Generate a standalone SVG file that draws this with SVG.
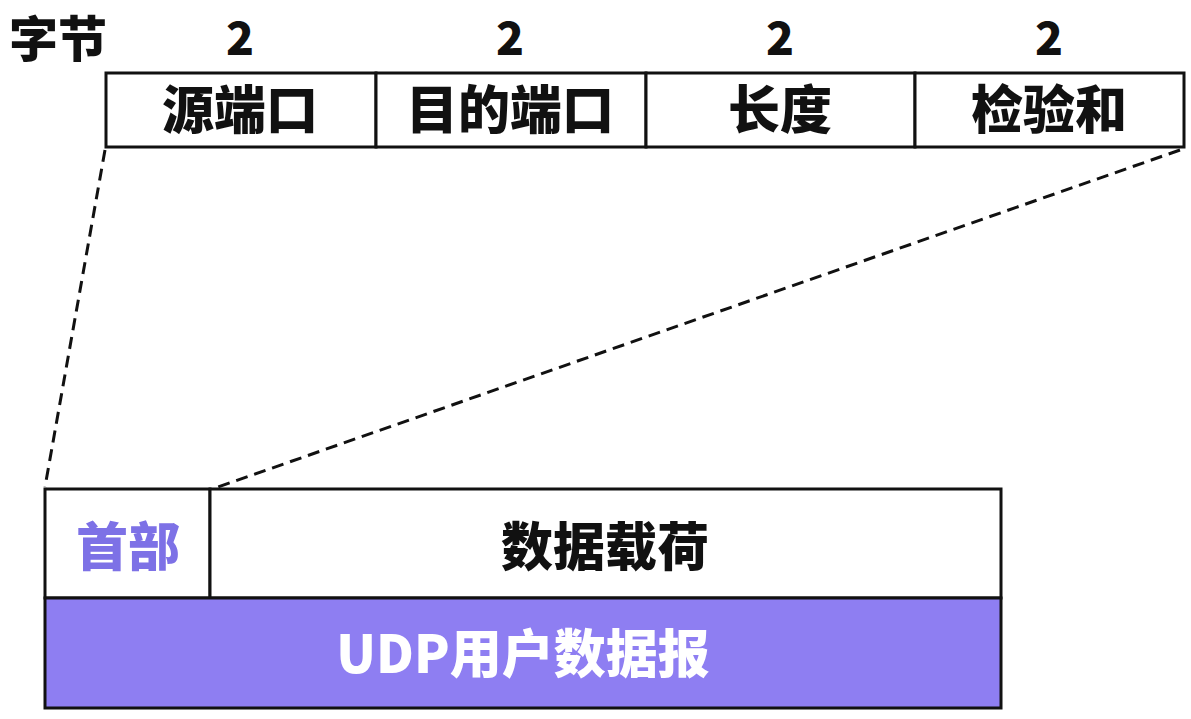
<svg xmlns="http://www.w3.org/2000/svg" width="1191" height="719" viewBox="0 0 1191 719">
<style>
text{font-family:"Noto Sans CJK SC","Noto Sans",sans-serif;font-weight:900;text-anchor:middle;dominant-baseline:central}
.lbl{font-size:52px;fill:#111}
.top{font-size:49px;fill:#111}
.num{font-size:46px;fill:#111}
.box{fill:#fff;stroke:#111;stroke-width:3}
.dash{stroke:#111;stroke-width:3;stroke-dasharray:12 7;fill:none}
</style>
<rect width="1191" height="719" fill="#fff"/>
<g id="bytes-label"><text class="top" x="58" y="35">字节</text></g>
<g id="sizes">
<text class="num" x="240" y="35">2</text>
<text class="num" x="510" y="35">2</text>
<text class="num" x="780" y="35">2</text>
<text class="num" x="1049" y="35">2</text>
</g>
<g id="src-port"><rect class="box" x="106" y="73" width="270" height="74"/><text class="lbl" x="240" y="106">源端口</text></g>
<g id="dst-port"><rect class="box" x="376" y="73" width="270" height="74"/><text class="lbl" x="510" y="106">目的端口</text></g>
<g id="length"><rect class="box" x="646" y="73" width="269" height="74"/><text class="lbl" x="780" y="106">长度</text></g>
<g id="checksum"><rect class="box" x="915" y="73" width="269" height="74"/><text class="lbl" x="1049" y="106">检验和</text></g>
<g id="connectors">
<line class="dash" x1="105" y1="150" x2="45" y2="487"/>
<line class="dash" x1="1180" y1="150" x2="218" y2="487"/>
</g>
<g id="header"><rect class="box" x="45" y="489" width="165" height="109"/><text class="lbl" x="128" y="543" style="fill:#7d71e6">首部</text></g>
<g id="payload"><rect class="box" x="210" y="489" width="791" height="109"/><text class="lbl" x="605" y="543">数据载荷</text></g>
<g id="udp"><rect x="45" y="598" width="956" height="110" fill="#8e7ef2" stroke="#111" stroke-width="3"/><text class="lbl" x="523" y="650" style="fill:#fff">UDP用户数据报</text></g>
</svg>
